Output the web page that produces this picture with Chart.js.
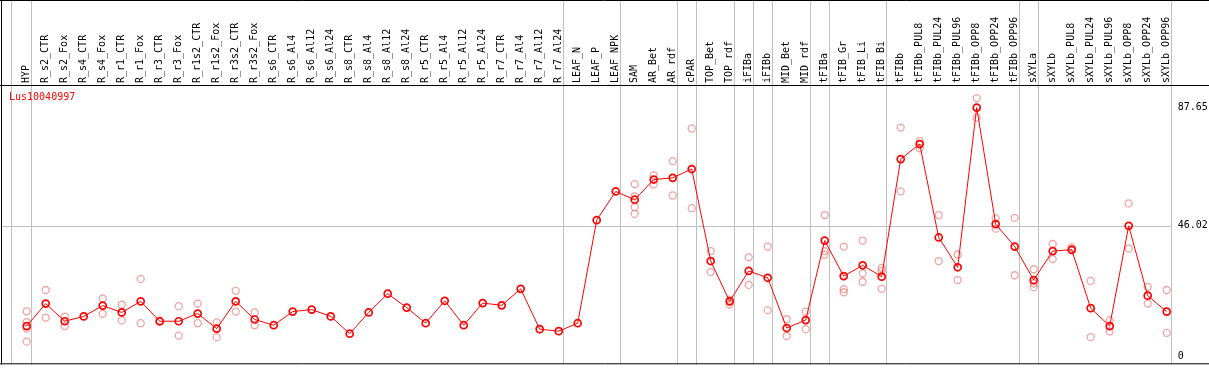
<!DOCTYPE html>
<html>
<head>
<meta charset="utf-8">
<script src="https://cdn.jsdelivr.net/npm/chart.js@4.4.0/dist/chart.umd.min.js"></script>
<style>
body { margin: 0; background: #fff; }
canvas { display: block; }
</style>
</head>
<body>
<canvas id="chart" width="1209" height="370"></canvas>
<script>
const geneName = 'Lus10040997';

const samples = ['HYP', 'R_s2_CTR', 'R_s2_Fox', 'R_s4_CTR', 'R_s4_Fox', 'R_r1_CTR', 'R_r1_Fox',
  'R_r3_CTR', 'R_r3_Fox', 'R_r1s2_CTR', 'R_r1s2_Fox', 'R_r3s2_CTR', 'R_r3s2_Fox',
  'R_s6_CTR', 'R_s6_Al4', 'R_s6_Al12', 'R_s6_Al24', 'R_s8_CTR', 'R_s8_Al4', 'R_s8_Al12', 'R_s8_Al24',
  'R_r5_CTR', 'R_r5_Al4', 'R_r5_Al12', 'R_r5_Al24', 'R_r7_CTR', 'R_r7_Al4', 'R_r7_Al12', 'R_r7_Al24',
  'LEAF_N', 'LEAF_P', 'LEAF_NPK', 'SAM', 'AR_Bet', 'AR_rdf', 'cPAR', 'TOP_Bet', 'TOP_rdf',
  'iFIBa', 'iFIBb', 'MID_Bet', 'MID_rdf', 'tFIBa', 'tFIB_Gr', 'tFIB_Li', 'tFIB_Bi',
  'tFIBb', 'tFIBb_PUL8', 'tFIBb_PUL24', 'tFIBb_PUL96', 'tFIBb_OPP8', 'tFIBb_OPP24', 'tFIBb_OPP96',
  'sXYLa', 'sXYLb', 'sXYLb_PUL8', 'sXYLb_PUL24', 'sXYLb_PUL96', 'sXYLb_OPP8', 'sXYLb_OPP24', 'sXYLb_OPP96'];

// mean expression per sample
const means = [10.7, 18.6, 12.4, 14.1, 17.9, 15.5, 19.4, 12.4, 12.4, 15.1, 9.8, 19.4, 13.0,
  11.0, 15.8, 16.5, 14.1, 8.0, 15.5, 22.1, 17.2, 11.7, 19.6, 11.0, 18.8, 18.0, 23.8, 9.6, 8.9,
  11.7, 48.0, 58.1, 55.2, 62.3, 62.9, 66.0, 33.6, 19.4, 30.1, 27.7, 10.0, 12.8, 40.8, 28.3, 32.1, 28.1,
  69.5, 74.8, 41.9, 31.4, 87.65, 46.6, 38.7, 26.9, 37.1, 37.6, 17.0, 10.7, 46.0, 21.4, 15.8];

// single replicates per sample
const replicates = [[15.9, 12.1, 9.8, 5.2], [23.4, 13.7], [14.0, 10.7], [], [20.4, 15.0], [18.2, 12.7],
  [27.3, 11.7], [12.6, 12.2], [17.7, 7.3], [18.6, 11.7], [12.0, 6.8], [23.1, 15.8], [15.5, 11.0],
  [], [], [], [], [], [], [], [], [], [], [], [], [], [], [], [],
  [], [], [], [60.7, 56.4, 52.6, 50.2], [63.8, 60.6], [68.8, 56.7], [80.3, 52.2], [37.1, 29.7], [20.0, 18.3],
  [34.9, 25.2], [38.7, 16.3], [13.1, 7.2], [15.8, 9.6], [49.8, 37.1, 35.8], [38.7, 23.7, 22.6],
  [40.8, 29.3, 26.3], [31.2, 30.1, 23.8], [80.6, 58.1], [75.8, 73.3], [49.8, 33.6], [35.9, 26.9],
  [91.0, 84.1], [48.6, 45.0], [48.8, 28.6], [30.7, 25.7, 24.4], [39.6, 34.3], [38.4, 37.3],
  [26.6, 6.8], [12.7, 8.8], [53.9, 38.0], [24.5, 18.6], [23.4, 8.3]];

// sample index after which a group separator is drawn
const groupEnds = [-1, 0, 28, 31, 34, 35, 37, 38, 39, 41, 42, 45, 52, 53, 60];
const yTicks = [0, 46.02, 87.65];

const repPoints = [];
replicates.forEach((vals, i) => {
  vals.forEach(v => repPoints.push({ x: samples[i], y: v }));
});

const mono = 'DejaVu Sans Mono';

const frame = {
  id: 'frame',
  beforeDatasetsDraw(chart) {
    const { ctx, chartArea, scales: { x, y } } = chart;
    ctx.save();
    ctx.lineWidth = 1;
    ctx.strokeStyle = '#c0c0c0';
    groupEnds.forEach(g => {
      const px = Math.round(x.getPixelForValue(g + 0.2)) + 0.5;
      ctx.beginPath();
      ctx.moveTo(px, 0);
      ctx.lineTo(px, chartArea.bottom);
      ctx.stroke();
    });
    const right = Math.round(x.getPixelForValue(60.2)) + 0.5;
    const gy = Math.round(y.getPixelForValue(yTicks[1])) + 0.5;
    ctx.beginPath();
    ctx.moveTo(1, gy);
    ctx.lineTo(right, gy);
    ctx.stroke();

    ctx.strokeStyle = '#000';
    ctx.beginPath();
    ctx.moveTo(0, 0.5); ctx.lineTo(chart.width, 0.5);
    ctx.moveTo(0, chartArea.top + 0.5); ctx.lineTo(chart.width, chartArea.top + 0.5);
    ctx.moveTo(0, chartArea.bottom - 0.5); ctx.lineTo(chart.width, chartArea.bottom - 0.5);
    ctx.moveTo(1.5, 0); ctx.lineTo(1.5, chartArea.bottom);
    ctx.stroke();

    ctx.fillStyle = '#ff0000';
    ctx.font = '10px "' + mono + '"';
    ctx.textBaseline = 'middle';
    ctx.fillText(geneName, 9, 97);
    ctx.restore();
  }
};

const ctx = document.getElementById('chart').getContext('2d');
new Chart(ctx, {
  type: 'line',
  data: {
    labels: samples,
    datasets: [
      {
        label: 'replicates',
        data: repPoints,
        showLine: false,
        order: 2,
        pointRadius: 3.5,
        pointBorderWidth: 1.3,
        pointBorderColor: 'rgba(232, 100, 100, 0.6)',
        pointBackgroundColor: 'rgba(0,0,0,0)',
        clip: false
      },
      {
        label: geneName,
        data: means,
        order: 1,
        borderColor: '#ff0000',
        borderWidth: 1,
        tension: 0,
        pointRadius: 3.5,
        pointBorderWidth: 1.7,
        pointBorderColor: '#ff0000',
        pointBackgroundColor: 'rgba(0,0,0,0)',
        clip: false
      }
    ]
  },
  options: {
    responsive: false,
    animation: false,
    devicePixelRatio: 1,
    layout: { padding: { left: 26.7, right: 0, top: 0, bottom: 1 } },
    plugins: { legend: { display: false }, tooltip: { enabled: false } },
    scales: {
      x: {
        type: 'category',
        position: 'top',
        offset: false,
        grid: { display: false, drawTicks: false },
        border: { display: false },
        ticks: {
          autoSkip: false,
          minRotation: 90,
          maxRotation: 90,
          padding: 2,
          labelOffset: 11.5,
          color: '#000',
          font: { family: mono, size: 10 }
        },
        afterFit(s) {
          s.height = 85;
          s.paddingLeft = 0;
          s.paddingRight = 0;
        }
      },
      y: {
        position: 'right',
        min: -2.77,
        max: 95.6,
        grid: { display: false, drawTicks: false },
        border: { display: false },
        afterBuildTicks(s) {
          s.ticks = yTicks.map(v => ({ value: v }));
        },
        ticks: {
          padding: 11,
          color: '#000',
          font: { family: mono, size: 10 },
          callback: v => (v === 0 ? '0' : v.toFixed(2))
        },
        afterFit(s) {
          s.width = 42.3;
          s.paddingTop = 0;
          s.paddingBottom = 0;
        }
      }
    }
  },
  plugins: [frame]
});
</script>
</body>
</html>
